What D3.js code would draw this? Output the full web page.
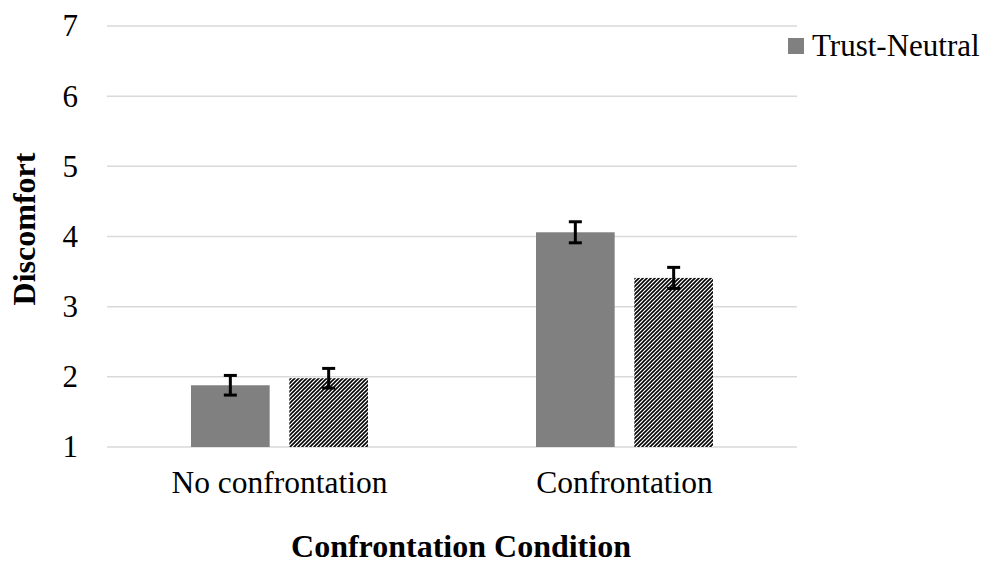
<!DOCTYPE html>
<html>
<head>
<meta charset="utf-8">
<script src="https://cdn.jsdelivr.net/npm/d3@7"></script>
<style>
  body { margin: 0; background: #fff; }
  text { font-family: "Liberation Serif", "Times New Roman", serif; fill: #000; }
</style>
</head>
<body>
<div id="chart"></div>
<script>
// data
const categories = ['No confrontation', 'Confrontation'];
const seriesNames = ['Trust-Neutral', 'Other'];
const trustNeutral = [1.88, 4.06];
const trustNeutralErr = [0.14, 0.15];
const other = [1.98, 3.41];
const otherErr = [0.14, 0.15];
const yTicks = [1, 2, 3, 4, 5, 6, 7];

const width = 990;
const height = 572;
const margin = {top: 26, right: 193, bottom: 125, left: 107};

const svg = d3.select('#chart').append('svg')
  .attr('width', width)
  .attr('height', height);

// diagonal hatch for the second series
const defs = svg.append('defs');
const pat = defs.append('pattern')
  .attr('id', 'hatch')
  .attr('patternUnits', 'userSpaceOnUse')
  .attr('width', 4)
  .attr('height', 4);
pat.append('rect').attr('width', 4).attr('height', 4).attr('fill', '#fff');
pat.append('path')
  .attr('d', 'M-1,1 L1,-1 M0,4 L4,0 M3,5 L5,3')
  .attr('stroke', '#000').attr('stroke-width', 1.6);

const plotW = width - margin.left - margin.right;
const plotH = height - margin.top - margin.bottom;

const plot = svg.append('g')
  .attr('transform', `translate(${margin.left},${margin.top})`);

const x0 = d3.scaleBand().domain(categories).range([0, plotW]);
const x1 = d3.scaleBand().domain(seriesNames)
  .range([x0.bandwidth() * 0.2435, x0.bandwidth() * 0.7565])
  .paddingInner(0.2);
const y = d3.scaleLinear().domain([1, 7]).range([plotH, 0]);

// gridlines
plot.append('g')
  .selectAll('line')
  .data(yTicks)
  .join('line')
  .attr('x1', 0).attr('x2', plotW)
  .attr('y1', d => y(d)).attr('y2', d => y(d))
  .attr('stroke', '#d9d9d9')
  .attr('stroke-width', 1.5);

// y tick labels
const yAxis = d3.axisLeft(y).tickValues(yTicks).tickFormat(d3.format('d'))
  .tickSize(0).tickPadding(29);
const yg = plot.append('g').call(yAxis);
yg.select('.domain').remove();
yg.selectAll('text')
  .style('font-family', '"Liberation Serif", serif')
  .style('font-size', '31px')
  .attr('fill', '#000');

// x tick labels
const xAxis = d3.axisBottom(x0).tickSize(0).tickPadding(24);
const xg = plot.append('g').attr('transform', `translate(0,${plotH})`).call(xAxis);
xg.select('.domain').remove();
xg.selectAll('text')
  .style('font-family', '"Liberation Serif", serif')
  .style('font-size', '31.5px')
  .attr('fill', '#000');

const rows = categories.map((c, i) => [
  {cat: c, s: seriesNames[0], v: trustNeutral[i], e: trustNeutralErr[i]},
  {cat: c, s: seriesNames[1], v: other[i], e: otherErr[i]}
]).flat();

plot.append('g')
  .selectAll('rect')
  .data(rows)
  .join('rect')
  .attr('x', d => x0(d.cat) + x1(d.s))
  .attr('width', x1.bandwidth())
  .attr('y', d => y(d.v))
  .attr('height', d => y(1) - y(d.v))
  .attr('fill', d => d.s === seriesNames[0] ? '#808080' : 'url(#hatch)');

// error bars
const eb = plot.append('g').attr('stroke', '#000').attr('stroke-width', 3);
rows.forEach(d => {
  const cx = x0(d.cat) + x1(d.s) + x1.bandwidth() / 2;
  eb.append('line').attr('x1', cx).attr('x2', cx)
    .attr('y1', y(d.v + d.e)).attr('y2', y(d.v - d.e));
  [d.v + d.e, d.v - d.e].forEach(t => {
    eb.append('line').attr('x1', cx - 6.5).attr('x2', cx + 6.5)
      .attr('y1', y(t)).attr('y2', y(t));
  });
});

// legend (only the first series is labelled)
svg.append('rect')
  .attr('x', 788).attr('y', 38).attr('width', 16).attr('height', 16)
  .attr('fill', '#808080');
svg.append('text')
  .attr('x', 812).attr('y', 56)
  .style('font-size', '31px')
  .text(seriesNames[0]);

// axis titles
svg.append('text')
  .attr('x', 461).attr('y', 557)
  .attr('text-anchor', 'middle')
  .style('font-size', '32px')
  .style('font-weight', 'bold')
  .text('Confrontation Condition');

svg.append('text')
  .attr('transform', `translate(35,229) rotate(-90)`)
  .attr('text-anchor', 'middle')
  .style('font-size', '32px')
  .style('font-weight', 'bold')
  .text('Discomfort');
</script>
</body>
</html>
